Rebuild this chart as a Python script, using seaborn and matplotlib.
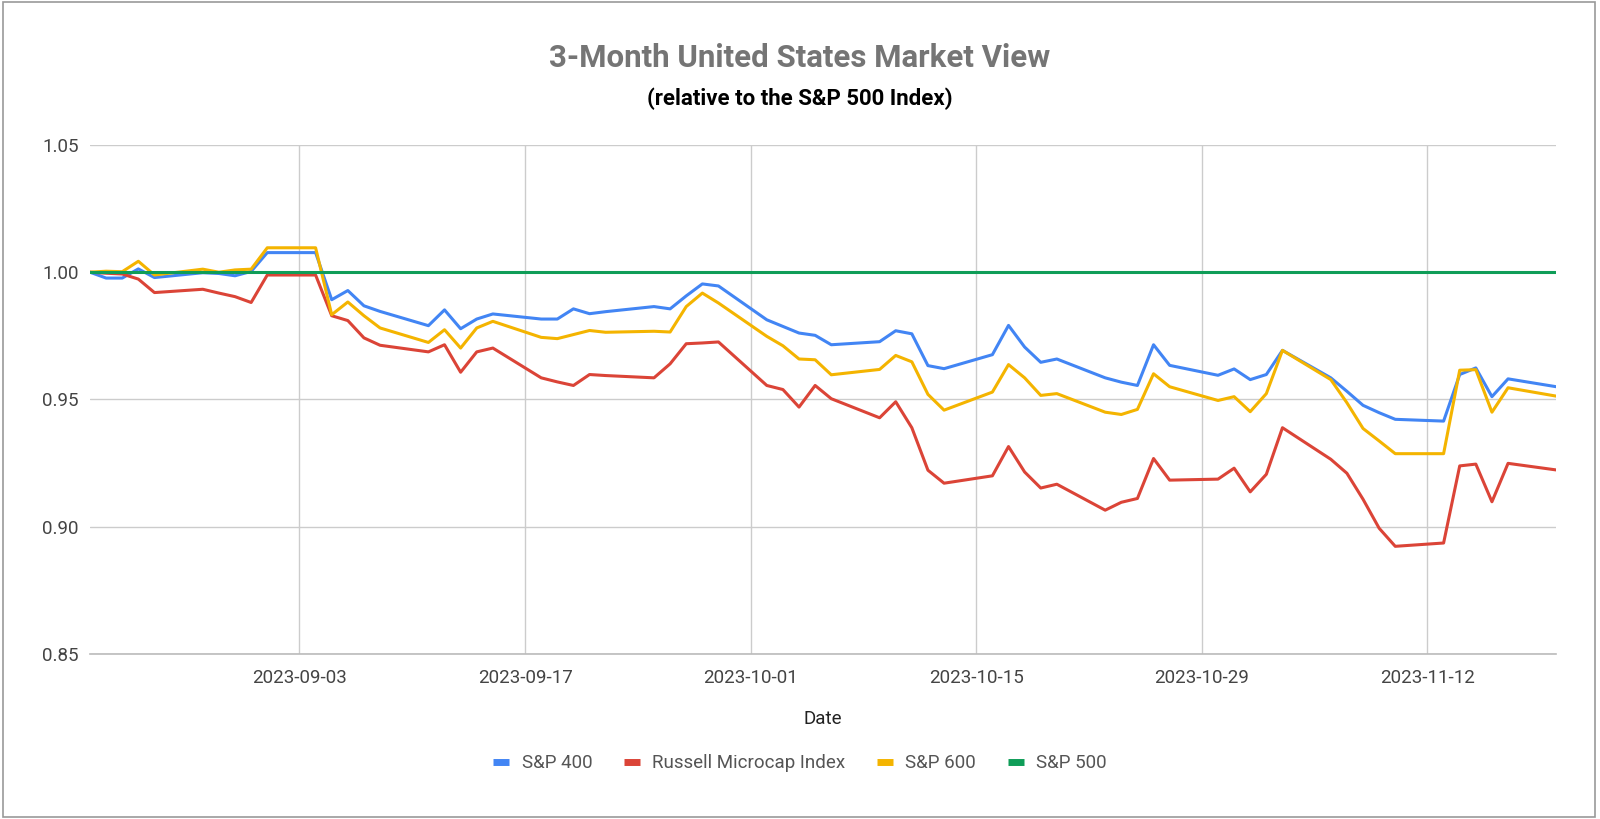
import pandas as pd
import numpy as np
import matplotlib
matplotlib.use("Agg")
import matplotlib.pyplot as plt
import matplotlib.dates as mdates
from matplotlib.lines import Line2D
from matplotlib.patches import Rectangle
import seaborn as sns

# trading days (weekdays, Labor Day carried forward)
dates = pd.bdate_range("2023-08-21", "2023-11-20")

sp400 = [1.000, 0.9977, 0.9977, 1.0013, 0.9979,
         0.9998, 0.9995, 0.9986, 1.0003, 1.0077,
         1.0077, 0.9892, 0.9928, 0.9868, 0.9846,
         0.9790, 0.9852, 0.9778, 0.9816, 0.9836,
         0.9816, 0.9816, 0.9856, 0.9837, 0.9845,
         0.9865, 0.9856, 0.9907, 0.9954, 0.9946,
         0.9813, 0.9787, 0.9761, 0.9752, 0.9715,
         0.9727, 0.9770, 0.9758, 0.9633, 0.9621,
         0.9676, 0.9791, 0.9706, 0.9646, 0.9659,
         0.9585, 0.9568, 0.9555, 0.9715, 0.9634,
         0.9595, 0.9620, 0.9578, 0.9598, 0.9693,
         0.9585, 0.9532, 0.9477, 0.9448, 0.9422,
         0.9415, 0.9598, 0.9624, 0.9511, 0.9581,
         0.9550]

russell_micro = [1.000, 0.9996, 0.9993, 0.9973, 0.9920,
                 0.9933, 0.9918, 0.9904, 0.9881, 0.9989,
                 0.9989, 0.9829, 0.9810, 0.9742, 0.9713,
                 0.9687, 0.9715, 0.9607, 0.9687, 0.9702,
                 0.9585, 0.9569, 0.9555, 0.9598, 0.9594,
                 0.9585, 0.9640, 0.9719, 0.9722, 0.9726,
                 0.9555, 0.9539, 0.9470, 0.9555, 0.9503,
                 0.9428, 0.9491, 0.9389, 0.9222, 0.9171,
                 0.9200, 0.9315, 0.9215, 0.9152, 0.9167,
                 0.9065, 0.9096, 0.9111, 0.9268, 0.9183,
                 0.9187, 0.9230, 0.9137, 0.9206, 0.9389,
                 0.9265, 0.9210, 0.9108, 0.8994, 0.8923,
                 0.8936, 0.9239, 0.9246, 0.9098, 0.9249,
                 0.9223]

sp600 = [1.000, 1.0004, 1.0002, 1.0043, 0.9989,
         1.0012, 1.0000, 1.0009, 1.0012, 1.0096,
         1.0096, 0.9833, 0.9883, 0.9829, 0.9781,
         0.9724, 0.9774, 0.9702, 0.9781, 0.9807,
         0.9744, 0.9739, 0.9755, 0.9771, 0.9764,
         0.9768, 0.9765, 0.9865, 0.9918, 0.9879,
         0.9748, 0.9711, 0.9659, 0.9656, 0.9597,
         0.9618, 0.9673, 0.9648, 0.9520, 0.9458,
         0.9529, 0.9637, 0.9585, 0.9516, 0.9523,
         0.9450, 0.9441, 0.9461, 0.9601, 0.9550,
         0.9496, 0.9511, 0.9452, 0.9523, 0.9693,
         0.9578, 0.9487, 0.9386, 0.9337, 0.9287,
         0.9287, 0.9615, 0.9617, 0.9450, 0.9546,
         0.9513]

# S&P 500 relative to itself
sp500 = [1.0, 1.0, 1.0, 1.0, 1.0, 1.0, 1.0, 1.0, 1.0, 1.0, 1.0,
         1.0, 1.0, 1.0, 1.0, 1.0, 1.0, 1.0, 1.0, 1.0, 1.0, 1.0,
         1.0, 1.0, 1.0, 1.0, 1.0, 1.0, 1.0, 1.0, 1.0, 1.0, 1.0,
         1.0, 1.0, 1.0, 1.0, 1.0, 1.0, 1.0, 1.0, 1.0, 1.0, 1.0,
         1.0, 1.0, 1.0, 1.0, 1.0, 1.0, 1.0, 1.0, 1.0, 1.0, 1.0,
         1.0, 1.0, 1.0, 1.0, 1.0, 1.0, 1.0, 1.0, 1.0, 1.0, 1.0]

series_names = ["S&P 400", "Russell Microcap Index", "S&P 600", "S&P 500"]
colors = ["#4285F4", "#DB4437", "#F4B400", "#0F9D58"]
x_ticks = ["2023-09-03", "2023-09-17", "2023-10-01", "2023-10-15", "2023-10-29", "2023-11-12"]
y_ticks = [0.85, 0.90, 0.95, 1.00, 1.05]

df = pd.DataFrame({"Date": dates, "S&P 400": sp400, "Russell Microcap Index": russell_micro,
                   "S&P 600": sp600, "S&P 500": sp500})
long_df = df.melt(id_vars="Date", var_name="Index", value_name="Value")

sns.set_style("white")
plt.rcParams['font.family'] = ['Roboto', 'DejaVu Sans']

fig = plt.figure(figsize=(16, 8.19), dpi=100)
ax_box = [0.05625, 0.2015, 0.9165, 0.6215]
ax = fig.add_axes(ax_box)

palette = dict(zip(series_names, colors))
sns.lineplot(data=long_df, x="Date", y="Value", hue="Index", hue_order=series_names,
             palette=palette, linewidth=2.2, ax=ax, legend=False)

ax.set_xlim(dates[0], dates[-1])
ax.set_ylim(0.85, 1.05)
ax.set_yticks(y_ticks)
ax.set_yticklabels([f"{v:.2f}" for v in y_ticks])
ax.set_xticks(pd.to_datetime(x_ticks))
ax.xaxis.set_major_formatter(mdates.DateFormatter("%Y-%m-%d"))
ax.grid(True, color="#cccccc", linewidth=1.0)
ax.set_axisbelow(True)
for s in ["top", "right", "left"]:
    ax.spines[s].set_visible(False)
ax.spines["bottom"].set_color("#bbbbbb")
ax.spines["bottom"].set_linewidth(1.2)
ax.tick_params(axis="both", length=0, labelsize=13.5, labelcolor="#444444")
ax.tick_params(axis="x", pad=11)
ax.tick_params(axis="y", pad=8)
ax.set_xlabel("")
ax.set_ylabel("")

fig.text(0.5, 0.929, "3-Month United States Market View", ha="center", va="center",
         fontsize=22.5, fontweight="bold", color="#757575")
fig.text(0.5, 0.879, "(relative to the S&P 500 Index)", ha="center", va="center",
         fontsize=16, fontweight="bold", color="#000000")
# axis title is centred on the plot area, not the figure
ax.text(0.5, (0.122 - ax_box[1]) / ax_box[3], "Date", transform=ax.transAxes,
        ha="center", va="center", fontsize=13.5, color="#222222")

handles = [Line2D([0], [0], color=c, linewidth=5, solid_capstyle="butt") for c in colors]
fig.legend(handles, series_names, loc="center", bbox_to_anchor=(0.5, 0.068), ncol=4,
           frameon=False, fontsize=13.5, handlelength=0.85, columnspacing=1.7,
           handletextpad=0.65, labelcolor="#555555")

fig.patches.append(Rectangle((0.002, 0.003), 0.995, 0.994, transform=fig.transFigure,
                             fill=False, edgecolor="#999999", linewidth=1.2))

plt.savefig("out.png", dpi=100)
